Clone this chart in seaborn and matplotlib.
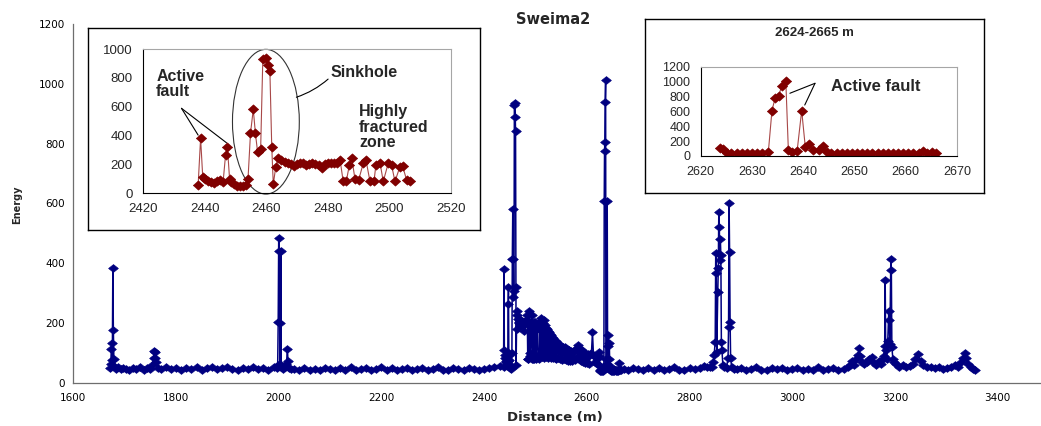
import numpy as np
import pandas as pd
import matplotlib
matplotlib.use("Agg")
import matplotlib.pyplot as plt
import seaborn as sns
from matplotlib.patches import Ellipse

# ---------------- data ----------------
seg1_dist = [1671, 1673, 1674, 1675, 1676, 1677, 1678, 1679, 1681, 1684, 1688, 1692, 1697]
seg1_energy = [50, 62, 113, 135, 77, 383, 177, 80, 55, 48, 52, 46, 50]

baseA_dist = [1702, 1709, 1716, 1723, 1730, 1737, 1744, 1750]
baseA_energy = [47, 44, 50, 46, 52, 45, 49, 47]

spikeB_dist = [1754, 1757, 1758, 1759, 1760, 1762, 1765]
spikeB_energy = [60, 83, 108, 83, 105, 70, 50]

baseC_dist = [1770, 1780, 1790, 1800, 1810, 1820, 1830, 1840, 1850, 1860, 1870, 1880,
              1890, 1900, 1910, 1920, 1930, 1940, 1950, 1960, 1970, 1980, 1990]
baseC_energy = [48, 52, 46, 50, 44, 51, 47, 53, 45, 49, 52, 46,
                50, 55, 47, 44, 51, 48, 53, 46, 50, 45, 52]

spikeD_dist = [1996, 1998, 1999, 2000, 2001, 2002, 2003, 2004, 2005, 2008, 2012, 2015,
               2017, 2018, 2020, 2024]
spikeD_energy = [50, 60, 205, 485, 440, 200, 62, 440, 55, 48, 52, 62,
                 113, 75, 50, 46]

baseE_dist = [2030, 2040, 2050, 2060, 2070, 2080, 2090, 2100, 2110, 2120, 2130, 2140,
              2150, 2160, 2170, 2180, 2190, 2200, 2210, 2220, 2230, 2240, 2250, 2260,
              2270, 2280, 2290, 2300, 2310, 2320, 2330, 2340, 2350, 2360, 2370, 2380,
              2390, 2400, 2410, 2420, 2430]
baseE_energy = [47, 43, 50, 45, 48, 44, 51, 46, 43, 49, 45, 52,
                44, 47, 50, 43, 48, 53, 45, 49, 44, 47, 51, 43,
                46, 50, 44, 48, 52, 45, 43, 49, 46, 44, 50, 47,
                43, 48, 51, 55, 58]

# 2437-2507 m (also shown in the left inset)
frac_dist = [2437.9, 2438.7, 2439.4, 2440.2, 2441, 2442, 2443, 2444, 2445, 2446,
             2446.8, 2447.4, 2448.1, 2448.7, 2449.5, 2450.5, 2451.5, 2452.5, 2453.3, 2454.1,
             2454.9, 2455.8, 2456.5, 2457.2, 2458.2, 2458.9, 2459.9, 2460.6, 2461.2, 2461.8,
             2462.3, 2463.1, 2463.9, 2464.7, 2466, 2467, 2468, 2469, 2470, 2471,
             2472, 2473, 2474, 2475, 2476, 2477, 2478, 2479, 2480, 2481,
             2482, 2483, 2484, 2485, 2486, 2487, 2487.8, 2488.8, 2490, 2491.5,
             2492.4, 2493.7, 2495, 2495.6, 2497, 2498, 2499.6, 2500.7, 2501.8, 2503.4,
             2504.3, 2505.6, 2506.7]
frac_energy = [55, 380, 110, 95, 85, 75, 70, 80, 90, 75,
               263, 321, 100, 77, 60, 50, 48, 50, 55, 100,
               414, 581, 414, 286, 309, 930, 937, 890, 844, 321,
               60, 181, 240, 228, 215, 205, 200, 190, 200, 210,
               205, 195, 200, 205, 200, 195, 175, 200, 205, 210,
               205, 210, 228, 80, 80, 195, 240, 100, 90, 205,
               228, 80, 80, 193, 205, 80, 205, 195, 80, 181,
               185, 90, 80]

dense_dist = [2508, 2509, 2510, 2511, 2512, 2513, 2514, 2515, 2516, 2517, 2518, 2519,
              2520, 2521, 2522, 2523, 2524, 2525, 2526, 2527, 2528, 2529, 2530, 2531,
              2532, 2533, 2534, 2535, 2536, 2537, 2538, 2539, 2540, 2542, 2544, 2546,
              2548, 2550, 2552, 2554, 2556, 2558, 2560, 2562, 2564, 2566, 2568, 2570,
              2572, 2574, 2576, 2578, 2580, 2582, 2583, 2585, 2587, 2589, 2591, 2593,
              2595, 2597, 2599, 2601, 2603, 2605, 2607, 2609, 2611, 2613, 2615, 2617,
              2619, 2621, 2622.8]
dense_energy = [90, 205, 100, 217, 88, 212, 95, 200, 85, 210, 92, 195,
                88, 185, 95, 180, 85, 175, 92, 170, 100, 165, 85, 160,
                90, 155, 85, 150, 90, 145, 82, 140, 80, 135, 85, 130,
                80, 125, 78, 122, 80, 120, 76, 115, 75, 110, 72, 108,
                75, 105, 78, 112, 118, 90, 127, 80, 115, 72, 110, 70,
                100, 68, 98, 66, 96, 65, 95, 100, 170, 90, 70, 88,
                62, 85, 60]

# 2624-2665 m (also shown in the right inset)
f2_dist = [2623.8, 2624.4, 2625.2, 2626, 2627, 2628, 2629, 2630, 2631, 2632,
           2633.2, 2633.9, 2634.5, 2635.2, 2635.8, 2636.6, 2637.1, 2637.8, 2638.8, 2639.7,
           2640.4, 2641.2, 2642, 2643, 2643.8, 2644.6, 2645.5, 2646.5, 2647.5, 2648.5,
           2649.5, 2650.5, 2651.5, 2652.5, 2653.5, 2654.5, 2655.5, 2656.5, 2657.5, 2658.5,
           2659.5, 2660.5, 2661.5, 2662.5, 2663.3, 2664.2, 2665.1, 2666]
f2_energy = [103, 90, 45, 40, 44, 40, 43, 40, 44, 41,
             58, 609, 775, 806, 940, 1012, 80, 58, 62, 609,
             125, 161, 80, 80, 134, 58, 45, 40, 44, 42,
             40, 45, 41, 44, 40, 43, 45, 40, 44, 41,
             45, 40, 43, 45, 67, 44, 48, 42]

baseF_dist = [2672, 2680, 2690, 2700, 2710, 2720, 2730, 2740, 2750, 2760, 2770, 2780,
              2790, 2800, 2810, 2820, 2828, 2834, 2840]
baseF_energy = [47, 44, 50, 46, 43, 49, 45, 51, 44, 48, 52, 45,
                43, 49, 46, 50, 58, 52, 55]

spikeG_dist = [2843, 2846, 2848, 2850, 2851, 2852, 2853, 2855, 2856, 2857, 2858, 2859,
               2860, 2861, 2862, 2863, 2865, 2868, 2872, 2875, 2876, 2877, 2878, 2879,
               2880, 2882, 2886]
spikeG_energy = [55, 70, 95, 138, 433, 367, 105, 305, 383, 570, 522, 411,
                 480, 428, 138, 110, 60, 55, 50, 84, 188, 600, 439, 205,
                 84, 52, 48]

baseH_dist = [2892, 2900, 2910, 2920, 2930, 2940, 2950, 2960, 2970, 2980, 2990, 3000,
              3010, 3020, 3030, 3040, 3050, 3060, 3070, 3080, 3090, 3100, 3108]
baseH_energy = [46, 50, 44, 48, 52, 45, 43, 49, 46, 51, 44, 47,
                50, 43, 48, 45, 52, 44, 47, 50, 45, 48, 52]

spikeI_dist = [3112, 3117, 3121, 3125, 3128, 3130, 3132, 3135, 3140, 3145, 3150, 3155,
               3158, 3163, 3168, 3172, 3176, 3178, 3180, 3181, 3182, 3184, 3186, 3188,
               3189, 3190, 3192, 3193, 3194, 3196, 3199, 3203]
spikeI_energy = [60, 75, 60, 80, 95, 116, 90, 70, 62, 70, 80, 87,
                 70, 60, 72, 65, 80, 90, 124, 344, 110, 80, 140, 242,
                 211, 130, 414, 378, 120, 80, 70, 65]

tailJ_dist = [3208, 3215, 3222, 3230, 3236, 3240, 3245, 3250, 3255, 3262, 3270, 3278,
              3286, 3294, 3302, 3310, 3316, 3322, 3328, 3333, 3336, 3339, 3343, 3348,
              3352, 3355]
tailJ_energy = [55, 60, 52, 58, 65, 80, 97, 75, 60, 52, 55, 50,
                52, 48, 50, 55, 60, 55, 70, 84, 101, 84, 65, 55,
                48, 45]

main_xticks = [1600, 1800, 2000, 2200, 2400, 2600, 2800, 3000, 3200, 3400]
main_yticks = [0, 200, 400, 600, 800, 1000, 1200]
ins1_xticks = [2420, 2440, 2460, 2480, 2500, 2520]
ins1_yticks = [0, 200, 400, 600, 800, 1000]
ins2_xticks = [2620, 2630, 2640, 2650, 2660, 2670]
ins2_yticks = [0, 200, 400, 600, 800, 1000, 1200]

# ---------------- assemble ----------------
segments = [(seg1_dist, seg1_energy), (baseA_dist, baseA_energy), (spikeB_dist, spikeB_energy),
            (baseC_dist, baseC_energy), (spikeD_dist, spikeD_energy), (baseE_dist, baseE_energy),
            (frac_dist, frac_energy), (dense_dist, dense_energy), (f2_dist, f2_energy),
            (baseF_dist, baseF_energy), (spikeG_dist, spikeG_energy), (baseH_dist, baseH_energy),
            (spikeI_dist, spikeI_energy), (tailJ_dist, tailJ_energy)]
main_df = pd.DataFrame({
    "Distance (m)": np.concatenate([np.asarray(d, float) for d, _ in segments]),
    "Energy": np.concatenate([np.asarray(e, float) for _, e in segments]),
})
ins1_df = pd.DataFrame({"Distance (m)": frac_dist, "Energy": frac_energy})
ins2_df = pd.DataFrame({"Distance (m)": f2_dist, "Energy": f2_energy})

NAVY = "#000080"
MAROON = "#800000"
AXC = "#6e6e6e"

sns.set_theme(style="white")
plt.rcParams['font.family'] = ['DejaVu Sans']

W, H = 1041, 426
fig = plt.figure(figsize=(W / 100, H / 100), dpi=100)
fig.patch.set_facecolor("white")


def px_rect(left, top, right, bottom):
    return [left / W, 1 - bottom / H, (right - left) / W, (bottom - top) / H]


diamond_main = [(-1, 0), (0, 0.8), (1, 0), (0, -0.8), (-1, 0)]
diamond_ins = [(-1, 0), (0, 0.9), (1, 0), (0, -0.9), (-1, 0)]

# ---------------- main chart ----------------
ax = fig.add_axes(px_rect(73.3, 24, 1049, 383))
sns.lineplot(data=main_df, x="Distance (m)", y="Energy", ax=ax, estimator=None, sort=False,
             color=NAVY, lw=1.1, marker=diamond_main, markersize=7,
             markerfacecolor=NAVY, markeredgecolor=NAVY, markeredgewidth=0.5)
ax.set_xlim(1600, 3500)
ax.set_ylim(0, 1200)
ax.set_xticks(main_xticks)
ax.set_yticks(main_yticks)
ax.set_xlabel("")
ax.set_ylabel("")
for s in ["top", "right"]:
    ax.spines[s].set_visible(False)
for s in ["left", "bottom"]:
    ax.spines[s].set_color(AXC)
    ax.spines[s].set_linewidth(0.9)
ax.tick_params(axis="both", direction="out", length=3.5, width=0.9, color=AXC,
               labelsize=7.5, labelcolor="black", pad=2.5)
ax.tick_params(axis="x", pad=4)
ax.grid(False)

fig.text(553 / W, 1 - 20 / H, "Sweima2", ha="center", va="center",
         fontsize=10.5, fontweight="bold")
fig.text(555 / W, 1 - 418 / H, "Distance (m)", ha="center", va="center",
         fontsize=9.5, fontweight="bold")
fig.text(17 / W, 1 - 205 / H, "Energy", ha="center", va="center", rotation=90,
         fontsize=7, fontweight="bold")

INSF = ["Liberation Sans", "DejaVu Sans"]


def frame(rect):
    f = fig.add_axes(rect)
    f.set_xticks([])
    f.set_yticks([])
    f.set_facecolor("white")
    for s in f.spines.values():
        s.set_color("black")
        s.set_linewidth(1.0)
    return f


def style_inset(a, size):
    for s in ["left", "bottom"]:
        a.spines[s].set_color("black")
        a.spines[s].set_linewidth(0.8)
    for s in ["top", "right"]:
        a.spines[s].set_color("#a6a6a6")
        a.spines[s].set_linewidth(0.8)
    a.tick_params(axis="both", direction="out", length=3.5, width=0.8, color="black",
                  labelsize=size, pad=4)
    for lab in a.get_xticklabels() + a.get_yticklabels():
        lab.set_fontfamily(INSF)
    a.set_xlabel("")
    a.set_ylabel("")
    a.grid(False)
    a.set_facecolor("white")


# ---------------- left inset ----------------
frame(px_rect(88, 28, 480, 230))
ax1 = fig.add_axes(px_rect(143, 49, 451, 193))
sns.lineplot(data=ins1_df, x="Distance (m)", y="Energy", ax=ax1, estimator=None, sort=False,
             color="#a84848", lw=0.8, marker=diamond_ins, markersize=7.5,
             markerfacecolor=MAROON, markeredgecolor=MAROON, markeredgewidth=0.4)
ax1.set_xlim(2420, 2520)
ax1.set_ylim(0, 1000)
ax1.set_xticks(ins1_xticks)
ax1.set_yticks(ins1_yticks)
style_inset(ax1, 9.5)

ax1.add_patch(Ellipse((2459.9, 495), 21.7, 1005, fill=False, edgecolor="#333333",
                      lw=0.8, clip_on=False))
ax1.text(2424.3, 860, "Active\nfault", ha="left", va="top", fontsize=11.5,
         fontweight="bold", family=INSF, linespacing=1.0)
ax1.text(2480.9, 808, "Sinkhole", ha="left", va="baseline", fontsize=11.5,
         fontweight="bold", family=INSF)
ax1.text(2490.2, 616, "Highly\nfractured\nzone", ha="left", va="top", fontsize=11.5,
         fontweight="bold", family=INSF, linespacing=1.05)
for xy in [(2437.9, 402), (2447.1, 349)]:
    ax1.annotate("", xy=xy, xytext=(2432.5, 588),
                 arrowprops=dict(arrowstyle="-", color="black", lw=0.8,
                                 shrinkA=0, shrinkB=0))
ax1.annotate("", xy=(2469.8, 665), xytext=(2480.1, 791),
             arrowprops=dict(arrowstyle="-", color="black", lw=0.8,
                             shrinkA=0, shrinkB=0, connectionstyle="arc3,rad=-0.1"))

# ---------------- right inset ----------------
frame(px_rect(645, 19, 984, 193))
ax2 = fig.add_axes(px_rect(700.7, 66.7, 957, 156))
sns.lineplot(data=ins2_df, x="Distance (m)", y="Energy", ax=ax2, estimator=None, sort=False,
             color="#a84848", lw=0.8, marker=diamond_ins, markersize=7.5,
             markerfacecolor=MAROON, markeredgecolor=MAROON, markeredgewidth=0.4)
ax2.set_xlim(2620, 2670)
ax2.set_ylim(0, 1200)
ax2.set_xticks(ins2_xticks)
ax2.set_yticks(ins2_yticks)
style_inset(ax2, 9)

fig.text(814 / W, 1 - 33 / H, "2624-2665 m", ha="center", va="center",
         fontsize=9.5, fontweight="bold", family=INSF)
ax2.text(2645.4, 873, "Active fault", ha="left", va="baseline", fontsize=12,
         fontweight="bold", family=INSF)
for xy in [(2637.4, 843), (2640.3, 685)]:
    ax2.annotate("", xy=xy, xytext=(2642.3, 977),
                 arrowprops=dict(arrowstyle="-", color="black", lw=0.8,
                                 shrinkA=0, shrinkB=0))

fig.savefig("out.png", dpi=100, facecolor="white")
